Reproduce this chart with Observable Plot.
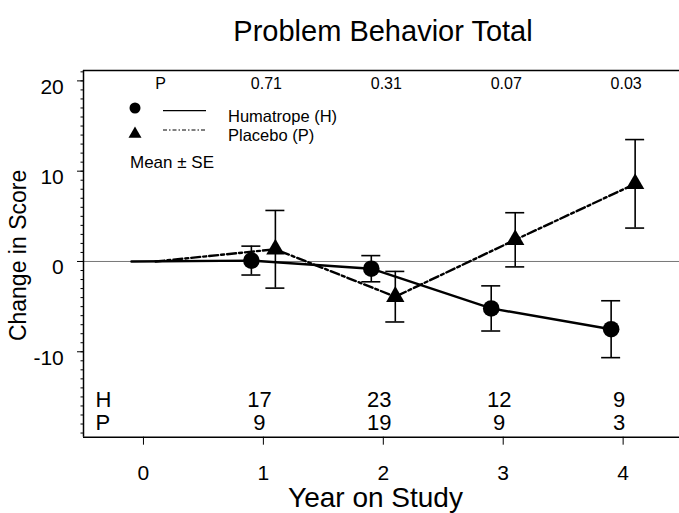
<!DOCTYPE html>
<html><head><meta charset="utf-8">
<script src="https://cdn.jsdelivr.net/npm/d3@7"></script>
<script src="https://cdn.jsdelivr.net/npm/@observablehq/plot@0.6"></script>
<style>
body{margin:0;background:#fff;}
</style></head><body><div id="chart"></div>
<script>
// ---- data ----
const years = [0, 1, 2, 3, 4];
const humatropeMean = [0, 0.1, -0.8, -5.2, -7.5];
const humatropeSE = [null, 1.6, 1.45, 2.5, 3.15];
const placeboMean = [0, 1.35, -3.9, 2.4, 8.6];
const placeboSE = [null, 4.3, 2.8, 3.0, 4.9];
const countYears = [1, 2, 3, 4];
const humatropeN = [17, 23, 12, 9];
const placeboN = [9, 19, 9, 3];
const pYears = [1, 2, 3, 4];
const pValues = ["0.71", "0.31", "0.07", "0.03"];
const xTicks = [0, 1, 2, 3, 4];
const yTicks = [-10, 0, 10, 20];
const yMinorTicks = d3.range(-19, 22);
const xDomain = [-0.5, 4.47];
const yDomain = [-19.46, 21.15];
const titleText = "Problem Behavior Total";
const xLabel = "Year on Study";
const yLabel = "Change in Score";

const hum = years.map((x, i) => ({x, y: humatropeMean[i], se: humatropeSE[i]}));
const plac = years.map((x, i) => ({x, y: placeboMean[i], se: placeboSE[i]}));
const humErr = hum.filter(d => d.se != null);
const placErr = plac.filter(d => d.se != null);

const FONT = "'Liberation Sans', Arial, Helvetica, sans-serif";

function legend(index, scales, values, dims) {
  const L = dims.marginLeft, T = dims.marginTop;
  const g = d3.create("svg:g").attr("font-family", FONT).attr("fill", "black").attr("text-anchor", "start");
  g.append("circle").attr("cx", L + 52).attr("cy", T + 38).attr("r", 5.5);
  g.append("line").attr("x1", L + 80).attr("x2", L + 123).attr("y1", T + 40.7).attr("y2", T + 40.7)
    .attr("stroke", "black").attr("stroke-width", 1.2);
  g.append("text").attr("x", L + 145).attr("y", T + 52).attr("font-size", 16.5).text("Humatrope (H)");
  g.append("path").attr("transform", `translate(${L + 52},${T + 64})`)
    .attr("d", d3.symbol(d3.symbolTriangle, 73)());
  g.append("line").attr("x1", L + 80).attr("x2", L + 123).attr("y1", T + 60).attr("y2", T + 60)
    .attr("stroke", "black").attr("stroke-width", 1).attr("stroke-dasharray", "4,2,1.5,2");
  g.append("text").attr("x", L + 145).attr("y", T + 71).attr("font-size", 16.5).text("Placebo (P)");
  g.append("text").attr("x", L + 47).attr("y", T + 98.3).attr("font-size", 17).text("Mean ± SE");
  return g.node();
}

const chart = Plot.plot({
  width: 679,
  height: 513,
  marginLeft: 83,
  marginRight: 0,
  marginTop: 70,
  marginBottom: 76.3,
  style: {fontFamily: FONT, background: "white", color: "black"},
  x: {domain: xDomain},
  y: {domain: yDomain},
  marks: [
    Plot.ruleY([0], {stroke: "#777", strokeWidth: 1}),
    // frame (left, top, bottom)
    Plot.ruleX([xDomain[0]], {strokeWidth: 1.5}),
    Plot.ruleY(yDomain, {strokeWidth: 1.5}),
    // axes
    Plot.axisY(yMinorTicks, {tickSize: 2.5, tickFormat: () => "", label: null}),
    Plot.axisY(yTicks, {tickSize: 6, tickFormat: () => "", label: null}),
    Plot.axisY(yTicks, {tickSize: 0, tickPadding: 19.7, fontSize: 21, dy: 6, tickFormat: d => String(d), label: null}),
    Plot.axisX(xTicks, {tickSize: 8, tickPadding: 19.4, fontSize: 21, tickFormat: d => String(d), label: null}),
    // series lines
    Plot.line(plac, {x: "x", y: "y", dx: 12, strokeWidth: 2.4, strokeDasharray: "9,3,3,3"}),
    Plot.line(hum, {x: "x", y: "y", dx: -12, strokeWidth: 2.4}),
    // error bars
    Plot.ruleX(humErr, {x: "x", y1: d => d.y - d.se, y2: d => d.y + d.se, dx: -12, strokeWidth: 1.6}),
    Plot.ruleY(humErr, {y: d => d.y + d.se, x1: "x", x2: "x", dx: -12, insetLeft: -9.5, insetRight: -9.5, strokeWidth: 1.6}),
    Plot.ruleY(humErr, {y: d => d.y - d.se, x1: "x", x2: "x", dx: -12, insetLeft: -9.5, insetRight: -9.5, strokeWidth: 1.6}),
    Plot.ruleX(placErr, {x: "x", y1: d => d.y - d.se, y2: d => d.y + d.se, dx: 12, strokeWidth: 1.6}),
    Plot.ruleY(placErr, {y: d => d.y + d.se, x1: "x", x2: "x", dx: 12, insetLeft: -9.5, insetRight: -9.5, strokeWidth: 1.6}),
    Plot.ruleY(placErr, {y: d => d.y - d.se, x1: "x", x2: "x", dx: 12, insetLeft: -9.5, insetRight: -9.5, strokeWidth: 1.6}),
    // markers
    Plot.dot(humErr, {x: "x", y: "y", dx: -12, r: 8.3, fill: "black", stroke: "none"}),
    Plot.dot(placErr, {x: "x", y: "y", dx: 12, r: 6.8, symbol: "triangle", fill: "black", stroke: "none"}),
    // p-values row
    Plot.text(["P"], {text: d => d, frameAnchor: "top-left", textAnchor: "middle", dx: 77, dy: 18.3, lineAnchor: "bottom", fontSize: 16}),
    Plot.text(pYears, {x: d => d, text: (d, i) => pValues[i], frameAnchor: "top", lineAnchor: "bottom", dy: 18.3, dx: 3, fontSize: 16}),
    // counts rows
    Plot.text(["H"], {text: d => d, frameAnchor: "bottom-left", textAnchor: "start", dx: 12, dy: -30, lineAnchor: "bottom", fontSize: 22}),
    Plot.text(["P"], {text: d => d, frameAnchor: "bottom-left", textAnchor: "start", dx: 12, dy: -7, lineAnchor: "bottom", fontSize: 22}),
    Plot.text(countYears, {x: d => d, text: (d, i) => String(humatropeN[i]), frameAnchor: "bottom", lineAnchor: "bottom", dy: -30, dx: -4, fontSize: 22}),
    Plot.text(countYears, {x: d => d, text: (d, i) => String(placeboN[i]), frameAnchor: "bottom", lineAnchor: "bottom", dy: -7, dx: -4, fontSize: 22}),
    // titles
    Plot.text([titleText], {text: d => d, frameAnchor: "top", textAnchor: "middle", lineAnchor: "bottom", dy: -30, dx: 1.5, fontSize: 29}),
    Plot.text([xLabel], {text: d => d, frameAnchor: "bottom", textAnchor: "middle", lineAnchor: "bottom", dy: 70, dx: -6, fontSize: 28}),
    Plot.text([yLabel], {text: d => d, frameAnchor: "left", textAnchor: "middle", rotate: -90, dx: -65, dy: 1.6, fontSize: 23}),
    legend
  ]
});
document.getElementById("chart").appendChild(chart);
</script>
</body></html>
